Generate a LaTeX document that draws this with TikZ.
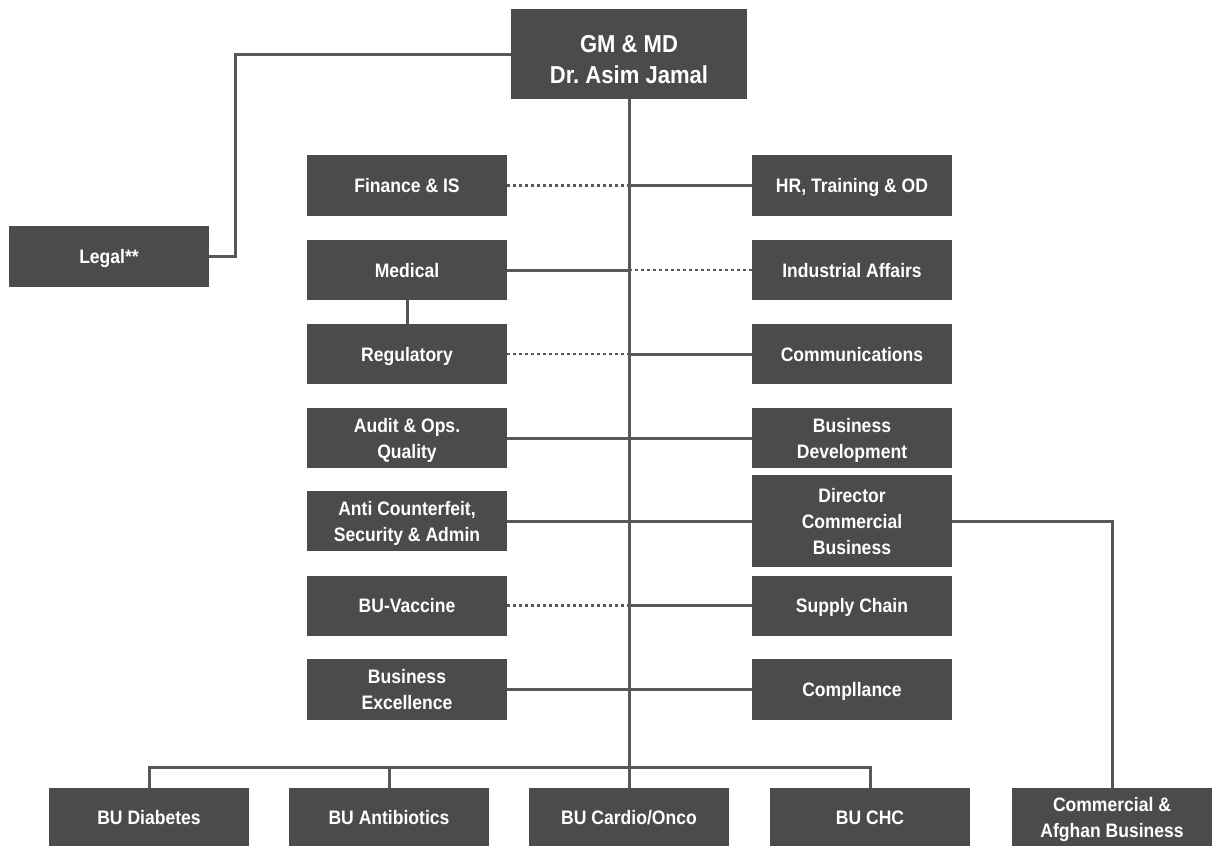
\documentclass[tikz,border=0pt]{standalone}
\usepackage{fontspec}
\setmainfont{Liberation Sans}[FakeStretch=0.9]
\definecolor{boxc}{HTML}{4B4B4D}
\definecolor{linec}{HTML}{58585A}
\begin{document}
\begin{tikzpicture}[x=1pt,y=-1pt,
  box/.style={rectangle, fill=boxc, text=white, align=center, inner sep=0pt,
    minimum width=200pt, minimum height=60pt, text height=14pt, text depth=0pt,
    font=\fontsize{19.5}{26}\selectfont\bfseries},
  two/.style={text height=40pt},
  three/.style={text height=66pt},
  conn/.style={draw=linec, line width=3pt},
  dotconn/.style={draw=linec, line width=2.5pt, dash pattern=on 2.5pt off 3.5pt}]
\useasboundingbox (0,0) rectangle (1216,846);

\node[box, minimum width=236pt, minimum height=90pt, text height=58pt,
  font=\fontsize{24.5}{31}\selectfont\bfseries] (gm) at (629,54) {GM \& MD\\Dr.\ Asim Jamal};
\node[box, minimum height=61pt] (legal) at (109,256.5) {Legal**};

\node[box, minimum height=61pt] (fin) at (407,185.5) {Finance \& IS};
\node[box, minimum height=61pt] (hr) at (852,185.5) {HR, Training \& OD};
\node[box] (med) at (407,270) {Medical};
\node[box] (ind) at (852,270) {Industrial Affairs};
\node[box] (reg) at (407,354) {Regulatory};
\node[box] (com) at (852,354) {Communications};
\node[box, two] (aud) at (407,438) {Audit \& Ops.\\Quality};
\node[box, two] (bd) at (852,438) {Business\\Development};
\node[box, two] (anti) at (407,521) {Anti Counterfeit,\\Security \& Admin};
\node[box, three, minimum height=92pt] (dir) at (852,521) {Director\\Commercial\\Business};
\node[box] (vac) at (407,605.5) {BU-Vaccine};
\node[box] (sup) at (852,605.5) {Supply Chain};
\node[box, two, minimum height=61pt] (bex) at (407,689.5) {Business\\Excellence};
\node[box, minimum height=61pt] (cmp) at (852,689.5) {Compllance};

\node[box, minimum height=58pt] (diab) at (149,817) {BU Diabetes};
\node[box, minimum height=58pt] (abx) at (389,817) {BU Antibiotics};
\node[box, minimum height=58pt] (card) at (629,817) {BU Cardio/Onco};
\node[box, minimum height=58pt] (chc) at (870,817) {BU CHC};
\node[box, two, minimum height=58pt] (caf) at (1112,817) {Commercial \&\\Afghan Business};

% main trunk
\draw[conn] (gm.south) -- (card.north);
% legal
\draw[conn] (legal.east) -- ++(26,0) |- (gm.west);
% rows
\draw[dotconn] (fin.east) -- (fin.east -| gm.south);
\draw[conn] (hr.west) -- (hr.west -| gm.south);
\draw[conn] (med.east) -- (med.east -| gm.south);
\draw[dotconn] (ind.west) -- (ind.west -| gm.south);
\draw[conn] (med.south) -- (reg.north);
\draw[dotconn] (reg.east) -- (reg.east -| gm.south);
\draw[conn] (com.west) -- (com.west -| gm.south);
\draw[conn] (aud.east) -- (aud.east -| gm.south);
\draw[conn] (bd.west) -- (bd.west -| gm.south);
\draw[conn] (anti.east) -- (anti.east -| gm.south);
\draw[conn] (dir.west) -- (dir.west -| gm.south);
\draw[dotconn] (vac.east) -- (vac.east -| gm.south);
\draw[conn] (sup.west) -- (sup.west -| gm.south);
\draw[conn] (bex.east) -- (bex.east -| gm.south);
\draw[conn] (cmp.west) -- (cmp.west -| gm.south);
% director to commercial & afghan
\draw[conn] (dir.east) -| (caf.north);
% bottom bus
\draw[conn] (diab.north) -- ++(0,-20) -| (chc.north);
\draw[conn] (abx.north) -- ++(0,-20);
\end{tikzpicture}
\end{document}
